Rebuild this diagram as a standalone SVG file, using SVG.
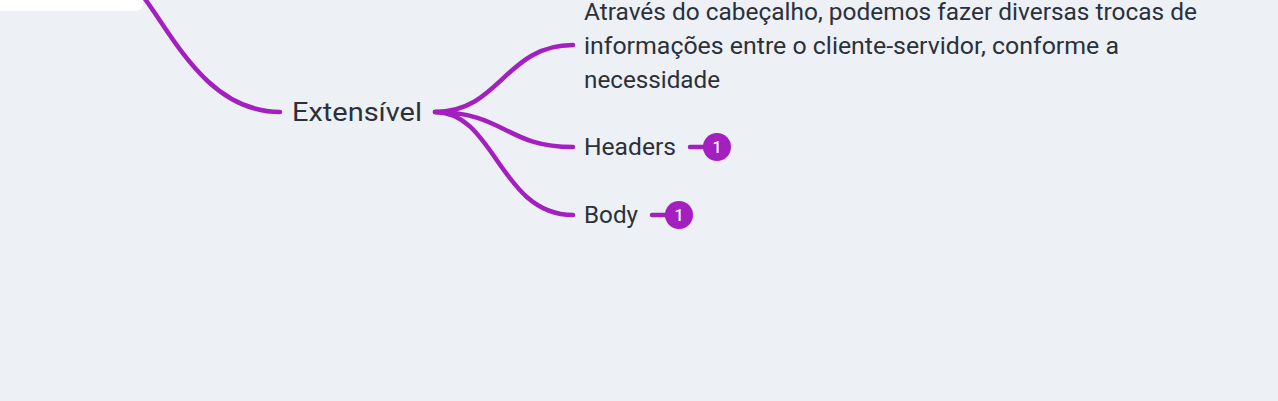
<svg xmlns="http://www.w3.org/2000/svg" width="1278" height="401" viewBox="0 0 1278 401">
<style>
.bg{fill:#edf0f5}
.conn path{fill:none;stroke:#a31fbf;stroke-width:4.5;stroke-linecap:round}
.t{font-family:Roboto,"Noto Sans",sans-serif;fill:#2b313b;font-weight:400}
.badge circle{fill:#a31fbf}
.badge text{font-family:Roboto,sans-serif;font-size:16px;font-weight:500;fill:#fff;text-anchor:middle}
</style>
<rect class="bg" x="0" y="0" width="1278" height="401"/>
<g id="parent"><rect x="-20" y="-20" width="163" height="31" rx="8" fill="#ffffff"/></g>
<g class="conn" id="connectors">
<path d="M145,-1 C175,40 210,112 280,112"/>
<path d="M435,112 C500,112 505,45 573,45"/>
<path d="M435,112 C505,112 505,147 573,147"/>
<path d="M435,112 C495,112 500,215 573,215"/>
<path d="M690,147 L705,147"/>
<path d="M652,215 L667,215"/>
</g>
<g id="n-extensivel"><text class="t" x="292" y="121" font-size="26" textLength="130" lengthAdjust="spacingAndGlyphs">Extensível</text></g>
<g id="n-desc">
<text class="t" font-size="23" x="584" y="20" textLength="613" lengthAdjust="spacingAndGlyphs">Através do cabeçalho, podemos fazer diversas trocas de</text>
<text class="t" font-size="23" x="584" y="54" textLength="535" lengthAdjust="spacingAndGlyphs">informações entre o cliente-servidor, conforme a</text>
<text class="t" font-size="23" x="584" y="88" textLength="136" lengthAdjust="spacingAndGlyphs">necessidade</text>
</g>
<g id="n-headers"><text class="t" font-size="23" x="584" y="155" textLength="92" lengthAdjust="spacingAndGlyphs">Headers</text>
<g class="badge"><circle cx="717" cy="147" r="14"/><text x="717" y="153">1</text></g></g>
<g id="n-body"><text class="t" font-size="23" x="584" y="223" textLength="54" lengthAdjust="spacingAndGlyphs">Body</text>
<g class="badge"><circle cx="679" cy="215" r="14"/><text x="679" y="221">1</text></g></g>
</svg>
